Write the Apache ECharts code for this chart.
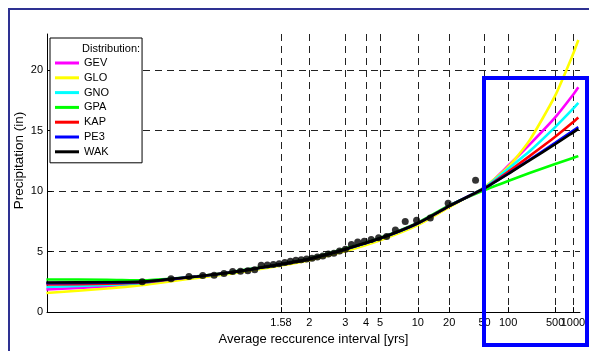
<!DOCTYPE html>
<html>
<head>
<meta charset="utf-8">
<script src="https://cdn.jsdelivr.net/npm/echarts@6.0.0/dist/echarts.min.js"></script>
<style>
  html, body { margin: 0; padding: 0; background: #fff; }
  #chart { width: 589px; height: 351px; }
</style>
</head>
<body>
<div id="chart"></div>
<script>
// return periods [yrs] at which the fitted curves were read
const curvePeriods = [1.0017, 1.01, 1.027, 1.06, 1.1, 1.2, 1.35, 1.58, 2, 3, 5, 10, 20, 50, 100, 200, 500, 1000, 1250];

// fitted quantiles (in) per distribution
const gev = [1.88, 2.12, 2.38, 2.72, 2.92, 3.24, 3.59, 3.94, 4.38, 5.17, 6.07, 7.32, 8.78, 10.3, 12.1, 13.85, 16.1, 17.95, 18.6];
const glo = [1.58, 1.95, 2.25, 2.6, 2.82, 3.15, 3.5, 3.85, 4.3, 5.05, 5.95, 7.2, 8.68, 10.35, 12.0, 14.2, 17.9, 21.3, 22.5];
const gno = [2.08, 2.25, 2.42, 2.74, 2.93, 3.24, 3.59, 3.94, 4.39, 5.18, 6.08, 7.33, 8.78, 10.3, 11.85, 13.3, 15.3, 16.8, 17.3];
const gpa = [2.7, 2.68, 2.63, 2.8, 2.97, 3.28, 3.63, 3.98, 4.43, 5.25, 6.15, 7.4, 8.82, 10.1, 10.85, 11.5, 12.25, 12.75, 12.9];
const kap = [2.28, 2.35, 2.45, 2.75, 2.94, 3.25, 3.6, 3.95, 4.4, 5.2, 6.1, 7.35, 8.77, 10.25, 11.6, 12.9, 14.5, 15.7, 16.1];
const pe3 = [2.4, 2.43, 2.5, 2.77, 2.95, 3.25, 3.6, 3.95, 4.4, 5.2, 6.1, 7.35, 8.77, 10.25, 11.45, 12.6, 14.0, 15.0, 15.3];
const wak = [2.45, 2.47, 2.52, 2.78, 2.95, 3.25, 3.6, 3.95, 4.4, 5.2, 6.1, 7.35, 8.77, 10.25, 11.42, 12.55, 13.88, 14.85, 15.15];

// observed annual maxima and their plotting positions
const observedPeriods = [1.026, 1.054, 1.083, 1.114, 1.147, 1.182, 1.219, 1.258, 1.3, 1.345, 1.393, 1.444, 1.5, 1.56, 1.625, 1.696, 1.773, 1.857, 1.95, 2.053, 2.167, 2.294, 2.438, 2.6, 2.786, 3, 3.25, 3.545, 3.9, 4.333, 4.875, 5.571, 6.5, 7.8, 9.75, 13, 19.5, 39];
const observedPrecip = [2.5, 2.75, 2.95, 3.03, 3.05, 3.2, 3.35, 3.38, 3.42, 3.5, 3.87, 3.9, 3.93, 4.0, 4.1, 4.2, 4.28, 4.33, 4.4, 4.45, 4.55, 4.65, 4.8, 4.87, 5.05, 5.2, 5.6, 5.8, 5.85, 6.0, 6.15, 6.25, 6.8, 7.5, 7.6, 7.78, 9.0, 10.9];

const tickPeriods = [1.58, 2, 3, 4, 5, 10, 20, 50, 100, 500, 1000];
const tickLabels = ['1.58', '2', '3', '4', '5', '10', '20', '50', '100', '500', '1000'];
const yTicks = [0, 5, 10, 15, 20];

const distNames = ['GEV', 'GLO', 'GNO', 'GPA', 'KAP', 'PE3', 'WAK'];
const distColors = ['#ff00ff', '#ffff00', '#00ffff', '#00ff00', '#ff0000', '#0000ff', '#000000'];
const distValues = [gev, glo, gno, gpa, kap, pe3, wak];

// axis scale: log of the shifted Gumbel reduced variate
function toAxis(T) {
  const u = -Math.log(-Math.log(1 - 1 / T));
  return Math.log(u + 3);
}

const FONT = '"Liberation Sans", Arial, sans-serif';
const tickCoords = tickPeriods.map(toAxis);
const X_MIN = Math.log(1.15);
const X_MAX = Math.log(10.2);

function tickLabel(v) {
  let best = 0;
  tickCoords.forEach((c, i) => { if (Math.abs(c - v) < Math.abs(tickCoords[best] - v)) best = i; });
  return tickLabels[best];
}

const chart = echarts.init(document.getElementById('chart'), null, { renderer: 'canvas' });

const lineSeries = distNames.map((name, k) => ({
  name,
  type: 'line',
  data: curvePeriods.map((T, i) => [toAxis(T), distValues[k][i]]),
  symbol: 'none',
  smooth: 0.2,
  lineStyle: { color: distColors[k], width: 2.6 },
  itemStyle: { color: distColors[k] },
  z: 3,
}));

const labelStyle = { margin: 5, fontSize: 11, color: '#000', fontFamily: FONT, hideOverlap: false, formatter: tickLabel };

chart.setOption({
  animation: false,
  backgroundColor: '#fff',
  textStyle: { fontFamily: FONT },
  grid: { left: 47, right: 9, top: 34, bottom: 35 },
  title: {
    text: 'Distribution:',
    left: 82,
    top: 43,
    padding: 0,
    z: 20,
    textStyle: { fontSize: 11, fontWeight: 'normal', color: '#000', fontFamily: FONT },
  },
  legend: {
    data: distNames,
    orient: 'vertical',
    left: 50,
    top: 38,
    padding: [18, 33, 4, 5],
    itemGap: 0.8,
    itemWidth: 24,
    itemHeight: 3,
    icon: 'rect',
    backgroundColor: '#fff',
    borderColor: '#000',
    borderWidth: 1,
    borderRadius: 0,
    z: 10,
    textStyle: { fontSize: 11, lineHeight: 14, color: '#000', fontFamily: FONT },
  },
  xAxis: [
    {
      type: 'value',
      min: X_MIN,
      max: X_MAX,
      name: 'Average reccurence interval [yrs]',
      nameLocation: 'middle',
      nameGap: 16,
      nameTextStyle: { fontSize: 13, color: '#000', fontFamily: FONT },
      axisLine: { lineStyle: { color: '#000', width: 1 } },
      axisTick: { inside: true, length: 5, customValues: tickCoords, lineStyle: { color: '#000' } },
      axisLabel: { ...labelStyle, customValues: tickCoords.slice(0, -1) },
      splitLine: { show: true, lineStyle: { color: '#222', width: 1, type: [7, 5] } },
    },
    {
      // second label row so the overlapping "1000" is not dropped
      type: 'value',
      position: 'bottom',
      min: X_MIN,
      max: X_MAX,
      axisLine: { show: false },
      axisTick: { show: false },
      splitLine: { show: false },
      axisLabel: { ...labelStyle, customValues: tickCoords.slice(-1) },
    },
  ],
  yAxis: {
    type: 'value',
    min: 0,
    max: 23,
    name: 'Precipitation (in)',
    nameLocation: 'middle',
    nameGap: 21,
    nameMoveOverlap: false,
    nameTextStyle: { fontSize: 13.5, color: '#000', fontFamily: FONT, padding: [0, 0, 0, 25] },
    axisLine: { show: true, lineStyle: { color: '#000', width: 1 } },
    axisTick: { show: true, inside: true, length: 5, customValues: yTicks, lineStyle: { color: '#000' } },
    axisLabel: { customValues: yTicks, margin: 4, fontSize: 11, color: '#000', fontFamily: FONT },
    splitLine: { show: true, lineStyle: { color: '#222', width: 1, type: [7, 5] } },
  },
  series: [
    ...lineSeries,
    {
      name: 'observed',
      type: 'scatter',
      data: observedPeriods.map((T, i) => [toAxis(T), observedPrecip[i]]),
      symbol: 'circle',
      symbolSize: 7,
      itemStyle: { color: '#000' },
      z: 5,
    },
  ],
  graphic: [
    {
      type: 'rect',
      z: 100,
      shape: { x: 9, y: 9, width: 700, height: 500 },
      style: { fill: 'none', stroke: '#2e3192', lineWidth: 2 },
    },
    {
      type: 'rect',
      z: 100,
      shape: { x: 484, y: 78, width: 103, height: 267 },
      style: { fill: 'none', stroke: '#0000ff', lineWidth: 4 },
    },
  ],
});
</script>
</body>
</html>
